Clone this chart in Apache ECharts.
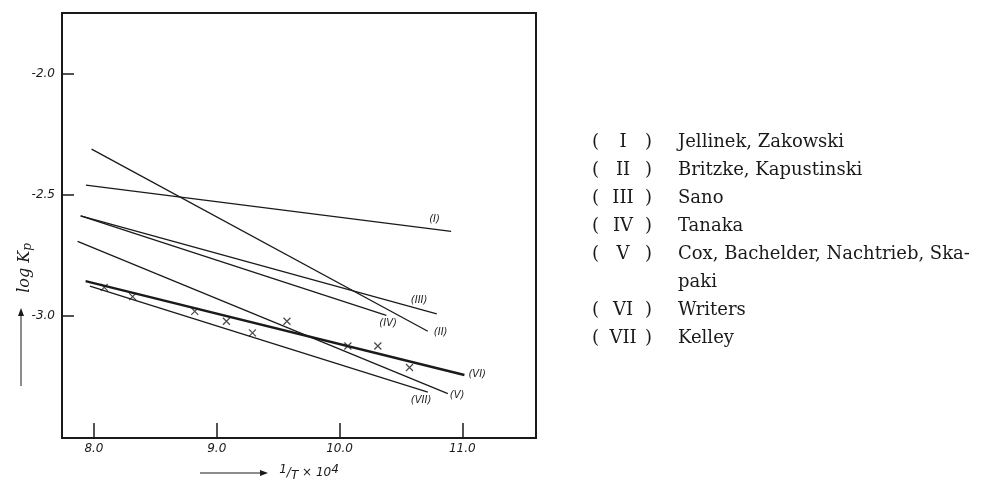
<!DOCTYPE html>
<html lang="en">
<head>
    <meta charset="UTF-8">
    <title>log Kp vs 1/T</title>
    <script src="https://cdn.jsdelivr.net/npm/echarts@6/dist/echarts.min.js"></script>
    <style>
        body { margin: 0; background: #fff; }
        #main { width: 1008px; height: 487px; }
    </style>
</head>
<body>
<div id="main"></div>
<script>
    // axis ticks
    var xTicks = [8.0, 9.0, 10.0, 11.0];
    var yTicks = [-2.0, -2.5, -3.0];

    // fitted lines: [1/T*1e4, log Kp] at both ends
    var lineI   = [[7.935, -2.461], [10.909, -2.652]];
    var lineII  = [[7.981, -2.312], [10.719, -3.064]];
    var lineIII = [[7.892, -2.588], [10.792, -2.992]];
    var lineIV  = [[7.892, -2.588], [10.381, -2.999]];
    var lineV   = [[7.867, -2.693], [10.882, -3.322]];
    var lineVI  = [[7.932, -2.857], [11.017, -3.245]];
    var lineVII = [[7.967, -2.878], [10.719, -3.316]];

    // measured points (x marks)
    var pointsX = [8.084, 8.315, 8.821, 9.079, 9.291, 9.572, 10.068, 10.312, 10.570];
    var pointsY = [-2.883, -2.921, -2.982, -3.023, -3.071, -3.023, -3.125, -3.125, -3.214];

    // legend text
    var romans = ['I', 'II', 'III', 'IV', 'V', 'VI', 'VII'];
    var authors = ['Jellinek, Zakowski', 'Britzke, Kapustinski', 'Sano', 'Tanaka',
        'Cox, Bachelder, Nachtrieb, Ska-', 'paki', 'Writers', 'Kelley'];
    // which legend row each numeral goes on (row 5 is the continuation "paki")
    var romanRows = [0, 1, 2, 3, 4, 6, 7];

    var lines = [lineI, lineII, lineIII, lineIV, lineV, lineVI, lineVII];
    // where each "(n)" tag sits relative to the end of its line
    var tagOffset = [[-30, -12], [-2, 1], [-34, -13], [-15, 8], [-6, 2], [-4, -1], [-25, 8]];

    var ink = '#1a1a1a';

    var series = lines.map(function (d, i) {
        return {
            name: romans[i],
            type: 'line',
            data: d,
            showSymbol: false,
            silent: true,
            lineStyle: { color: ink, width: romans[i] === 'VI' ? 2.4 : 1.3 },
            endLabel: {
                show: true,
                formatter: '(' + romans[i] + ')',
                offset: tagOffset[i],
                color: ink,
                fontFamily: '"DejaVu Sans", sans-serif',
                fontStyle: 'italic',
                fontSize: 10
            }
        };
    });
    series.push({
        name: 'points',
        type: 'scatter',
        data: pointsX.map(function (x, i) { return [x, pointsY[i]]; }),
        symbol: 'path://M0,0L10,10M10,0L0,10',
        symbolSize: 7,
        itemStyle: { color: 'none', borderColor: ink, borderWidth: 1.2 }
    });

    // legend block on the right, built from the arrays
    var graphics = [];
    var font = '18px "DejaVu Serif", serif';
    var rowY = function (k) { return 142 + k * 28; };
    romans.forEach(function (r, i) {
        var y = rowY(romanRows[i]);
        graphics.push({ type: 'text', x: 592, y: y, style: { text: '(', font: font, fill: ink, verticalAlign: 'middle' } });
        graphics.push({ type: 'text', x: 623, y: y, style: { text: r, font: font, fill: ink, align: 'center', verticalAlign: 'middle' } });
        graphics.push({ type: 'text', x: 652, y: y, style: { text: ')', font: font, fill: ink, align: 'right', verticalAlign: 'middle' } });
    });
    authors.forEach(function (a, k) {
        graphics.push({ type: 'text', x: 678, y: rowY(k), style: { text: a, font: font, fill: ink, verticalAlign: 'middle' } });
    });
    // axis name arrows and y name
    graphics.push({ type: 'line', shape: { x1: 200, y1: 473, x2: 266, y2: 473 }, style: { stroke: ink, lineWidth: 1 } });
    graphics.push({ type: 'polygon', shape: { points: [[268, 473], [260, 470], [260, 476]] }, style: { fill: ink } });
    graphics.push({ type: 'line', shape: { x1: 21, y1: 386, x2: 21, y2: 312 }, style: { stroke: ink, lineWidth: 1 } });
    graphics.push({ type: 'polygon', shape: { points: [[21, 308], [18, 316], [24, 316]] }, style: { fill: ink } });
    graphics.push({
        type: 'text', x: 25, y: 268, rotation: Math.PI / 2,
        style: {
            text: '{a|log K}{b|p}', fill: ink, align: 'center', verticalAlign: 'middle',
            rich: {
                a: { font: 'italic 16px "DejaVu Serif", serif', fill: ink },
                b: { font: 'italic 12px "DejaVu Serif", serif', fill: ink, padding: [6, 0, 0, 0] }
            }
        }
    });

    var myChart = echarts.init(document.getElementById('main'));
    myChart.setOption({
        animation: false,
        backgroundColor: '#fff',
        grid: {
            left: 62, top: 13, right: 472, bottom: 44,
            show: true, borderColor: ink, borderWidth: 2
        },
        xAxis: {
            type: 'value',
            min: 7.74,
            max: 11.6,
            splitLine: { show: false },
            axisLine: { lineStyle: { color: ink, width: 2 } },
            axisTick: { inside: true, length: 15, customValues: xTicks, lineStyle: { color: ink, width: 1.5 } },
            axisLabel: {
                customValues: xTicks, margin: 5, color: ink,
                fontFamily: '"DejaVu Sans", sans-serif', fontStyle: 'italic', fontSize: 12,
                formatter: function (v) { return v.toFixed(1); }
            },
            name: '{s|1}/{t|T} × 10{s|4}',
            nameLocation: 'middle',
            nameGap: 26,
            nameTextStyle: {
                color: ink,
                rich: {
                    s: { font: 'italic 10px "DejaVu Sans", sans-serif', padding: [0, 0, 6, 0] },
                    t: { font: 'italic 12px "DejaVu Sans", sans-serif', padding: [6, 0, 0, 0] }
                },
                fontFamily: '"DejaVu Sans", sans-serif', fontStyle: 'italic', fontSize: 12,
                padding: [0, 0, 0, 20]
            }
        },
        yAxis: {
            type: 'value',
            min: -3.505,
            max: -1.75,
            splitLine: { show: false },
            axisLine: { lineStyle: { color: ink, width: 2 } },
            axisTick: { inside: true, length: 12, customValues: yTicks, lineStyle: { color: ink, width: 1.5 } },
            axisLabel: {
                customValues: yTicks, margin: 7, color: ink,
                fontFamily: '"DejaVu Sans", sans-serif', fontStyle: 'italic', fontSize: 12,
                formatter: function (v) { return v.toFixed(1); }
            }
        },
        graphic: graphics,
        series: series
    });
</script>
</body>
</html>
